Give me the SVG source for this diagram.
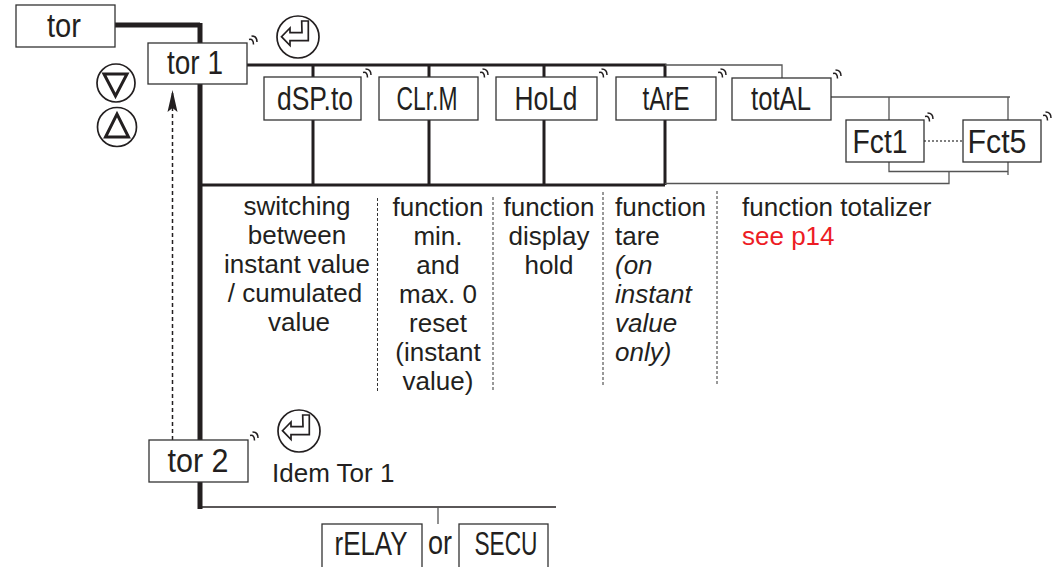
<svg xmlns="http://www.w3.org/2000/svg" width="1061" height="567" viewBox="0 0 1061 567">
<style>
.box{fill:#fff;stroke:#333;stroke-width:1.3}
.lbl{font-family:'Liberation Sans',Arial,sans-serif;font-size:33px;fill:#231f20;text-anchor:middle}
.desc{font-family:'Liberation Sans',Arial,sans-serif;font-size:26px;fill:#231f20}
.mid{text-anchor:middle}
.it{font-style:italic}
.red{fill:#ed1c24}
.thick{stroke:#231f20;stroke-width:3;fill:none}
.heavy{stroke:#231f20;stroke-width:5;fill:none}
.thin{stroke:#555;stroke-width:1.3;fill:none}
.sep{stroke:#333;stroke-width:1;stroke-dasharray:3,2;fill:none}
.icon{fill:#fff;stroke:#231f20;stroke-width:1.7}
.tri{fill:none;stroke:#231f20;stroke-width:3;stroke-linejoin:miter}
.sig{fill:none;stroke:#231f20;stroke-width:1.5}
</style>
<defs>
<marker id="ah" markerUnits="userSpaceOnUse" markerWidth="24" markerHeight="12" refX="22" refY="6" orient="auto">
<path d="M0,1 L22,6 L0,11 L4,6 Z" fill="#231f20"/>
</marker>
<g id="sig"><path class="sig" d="M0,3.5 Q4.5,2.5 4.5,8.5 M2.5,0 Q8,0 8,6"/></g>
<g id="enter">
<circle class="icon" r="21"/>
<path class="icon" d="M3.7,-16 L10.3,-16 L10.3,3.7 L-8,3.7 L-8,8.5 L-16.5,-0.3 L-8,-9 L-8,-4.3 L4,-4.3 Z"/>
</g>
</defs>

<g id="connectors">
<path class="heavy" d="M115,25 H200" stroke-width="4"/>
<path class="heavy" d="M200,23 V509"/>
<path class="thick" d="M247,65 H665 V77"/>
<path class="thin" d="M665,65 H782 V78"/>
<path class="thick" d="M313,65 V77 M429,65 V77 M544,65 V77"/>
<path class="thick" d="M313,120 V185 M429,120 V185 M544,120 V185 M665,120 V185"/>
<path class="thick" d="M200,185 H665"/>
<path class="thin" d="M665,183.5 H949 V171.5"/>
<path class="thin" d="M889,162 V171.5 H1008"/>
<path class="thin" d="M1008,162 V175"/>
<path class="thin" d="M831,97 H1010"/>
<path class="thin" d="M889,97 V120 M1008,97 V120"/>
<path class="thin" d="M924,141 H963" stroke-dasharray="2,2"/>
<path d="M172.5,440 V90" stroke="#231f20" stroke-width="1.5" stroke-dasharray="4,3" fill="none" marker-end="url(#ah)"/>
<path d="M200,507 H556" stroke="#231f20" stroke-width="1.5" fill="none"/>
<path class="thin" d="M438,507 V524"/>
<path class="sep" d="M377.5,198 V393 M493,197 V390 M603,192 V387 M717,191 V386"/>
</g>

<g id="tor"><rect class="box" x="16" y="5" width="99" height="42"/><text class="lbl" x="64" y="37" textLength="34" lengthAdjust="spacingAndGlyphs">tor</text></g>
<g id="tor1"><rect class="box" x="148" y="43" width="99" height="41"/><text class="lbl" x="195" y="74" textLength="56" lengthAdjust="spacingAndGlyphs">tor 1</text><use href="#sig" x="249" y="36"/></g>
<g id="dSPto"><rect class="box" x="264" y="77" width="97" height="43"/><text class="lbl" x="315" y="110" textLength="76" lengthAdjust="spacingAndGlyphs">dSP.to</text><use href="#sig" x="363" y="69"/></g>
<g id="CLrM"><rect class="box" x="379" y="77" width="99" height="43"/><text class="lbl" x="427" y="110" textLength="61" lengthAdjust="spacingAndGlyphs">CLr.M</text><use href="#sig" x="480" y="69"/></g>
<g id="HoLd"><rect class="box" x="496" y="77" width="101" height="43"/><text class="lbl" x="546" y="110" textLength="63" lengthAdjust="spacingAndGlyphs">HoLd</text><use href="#sig" x="599" y="69"/></g>
<g id="tArE"><rect class="box" x="616" y="77" width="100" height="43"/><text class="lbl" x="666" y="110" textLength="47" lengthAdjust="spacingAndGlyphs">tArE</text><use href="#sig" x="718" y="69"/></g>
<g id="totAL"><rect class="box" x="732" y="78" width="99" height="42"/><text class="lbl" x="781" y="110" textLength="60" lengthAdjust="spacingAndGlyphs">totAL</text><use href="#sig" x="833" y="70"/></g>
<g id="Fct1"><rect class="box" x="846" y="120" width="78" height="42"/><text class="lbl" x="880" y="153" textLength="55" lengthAdjust="spacingAndGlyphs">Fct1</text><use href="#sig" x="925" y="113"/></g>
<g id="Fct5"><rect class="box" x="963" y="120" width="78" height="42"/><text class="lbl" x="997" y="153" textLength="59" lengthAdjust="spacingAndGlyphs">Fct5</text><use href="#sig" x="1043" y="112"/></g>
<g id="tor2"><rect class="box" x="149" y="440" width="99" height="42"/><text class="lbl" x="198" y="472" textLength="61" lengthAdjust="spacingAndGlyphs">tor 2</text><use href="#sig" x="250" y="432"/></g>
<g id="rELAY"><rect class="box" x="322" y="524" width="100" height="48"/><text class="lbl" x="371" y="555" textLength="73" lengthAdjust="spacingAndGlyphs">rELAY</text></g>
<g id="SECU"><rect class="box" x="459" y="524" width="89" height="48"/><text class="lbl" x="506" y="555" textLength="63" lengthAdjust="spacingAndGlyphs">SECU</text></g>
<text class="lbl" x="440" y="554" font-size="27" textLength="24" lengthAdjust="spacingAndGlyphs">or</text>

<g id="icons">
<use href="#enter" x="298" y="37"/>
<use href="#enter" x="299" y="431"/>
<circle class="icon" cx="116" cy="83" r="19"/>
<path class="tri" d="M104,74 H127 L115.5,96 Z"/>
<circle class="icon" cx="117" cy="127" r="19.5"/>
<path class="tri" d="M105.5,137 H128.5 L117,114 Z"/>
</g>

<g id="descriptions">
<text class="desc mid" x="297"><tspan x="297" y="215">switching</tspan><tspan x="297" y="244">between</tspan><tspan x="297" y="273">instant value</tspan><tspan x="295" y="302">/ cumulated</tspan><tspan x="299" y="331">value</tspan></text>
<text class="desc mid"><tspan x="438" y="216">function</tspan><tspan x="438" y="245">min.</tspan><tspan x="438" y="274">and</tspan><tspan x="438" y="303">max. 0</tspan><tspan x="438" y="332">reset</tspan><tspan x="438" y="361">(instant</tspan><tspan x="438" y="390">value)</tspan></text>
<text class="desc mid"><tspan x="549" y="216">function</tspan><tspan x="549" y="245">display</tspan><tspan x="549" y="274">hold</tspan></text>
<text class="desc"><tspan x="615" y="216">function</tspan><tspan x="615" y="245">tare</tspan><tspan class="it" x="615" y="274">(on</tspan><tspan class="it" x="615" y="303">instant</tspan><tspan class="it" x="615" y="332">value</tspan><tspan class="it" x="615" y="361">only)</tspan></text>
<text class="desc"><tspan x="742" y="216">function totalizer</tspan><tspan class="red" x="742" y="245">see p14</tspan></text>
<text class="desc" x="272" y="482" font-size="25.5">Idem Tor 1</text>
</g>
</svg>
